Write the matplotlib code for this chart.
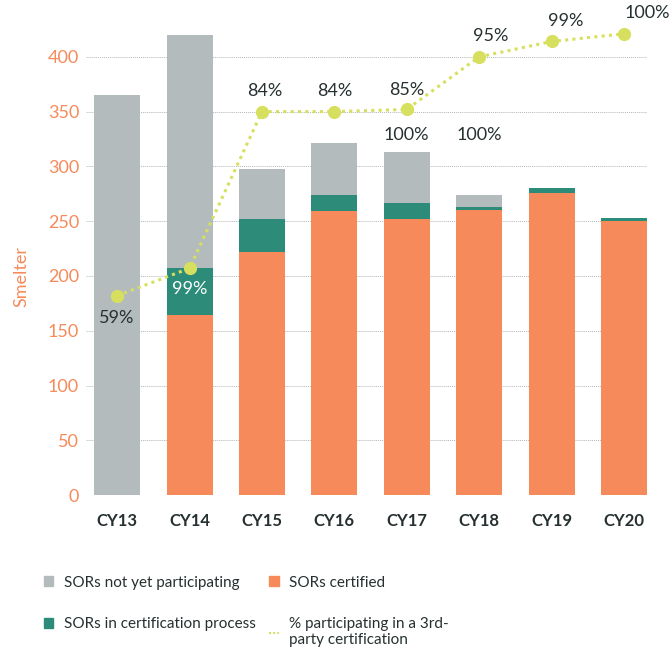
import matplotlib.pyplot as plt
from matplotlib.patches import Patch
from matplotlib.lines import Line2D

plt.rcParams['font.family'] = ['Lato', 'DejaVu Sans']

years = ['CY13', 'CY14', 'CY15', 'CY16', 'CY17', 'CY18', 'CY19', 'CY20']
certified = [0, 164, 222, 259, 252, 260, 276, 250]
in_process = [0, 43, 30, 15, 15, 3, 4, 3]
not_participating = [365, 213, 46, 47, 46, 11, 0, 0]
participation_line = [182, 207, 350, 350, 352, 400, 414, 421]
participation_pct = ['59%', '99%', '84%', '84%', '85%', '95%', '99%', '100%']
extra_labels = ['100%', '100%']
extra_years = ['CY17', 'CY18']
extra_level = 329

GRAY = '#B3BBBC'
TEAL = '#2C8B79'
ORANGE = '#F68A5A'
LIME = '#D7E05E'
TEXT = '#263030'

fig = plt.figure(figsize=(6.72, 6.48), dpi=100)
ax = fig.add_axes([0.128, 0.236, 0.835, 0.749])

x = range(len(years))
w = 0.635
bottom2 = [c + p for c, p in zip(certified, in_process)]
ax.bar(x, certified, w, color=ORANGE, zorder=2)
ax.bar(x, in_process, w, bottom=certified, color=TEAL, zorder=2)
ax.bar(x, not_participating, w, bottom=bottom2, color=GRAY, zorder=2)

ax.plot(x, participation_line, color=LIME, linestyle=(0, (1, 1.4)), linewidth=2.2,
        marker='o', markersize=8.5, zorder=3)

# percentage labels: (dx, dy) in points, relative to each line point
offsets = [(0, -16), (0, -15), (2, 15), (0, 15), (0, 14), (8, 15), (10, 15), (17, 15)]
for i, (lab, (dx, dy)) in enumerate(zip(participation_pct, offsets)):
    col = 'white' if i == 1 else TEXT
    ax.annotate(lab, (i, participation_line[i]), xytext=(dx, dy), textcoords='offset points',
                ha='center', va='center', fontsize=13, color=col, zorder=4)
for lab, yr in zip(extra_labels, extra_years):
    ax.text(years.index(yr), extra_level, lab, ha='center', va='center',
            fontsize=13, color=TEXT, zorder=4)

ax.set_xlim(-0.43, 7.32)
ax.set_ylim(0, 443)
ax.set_yticks(range(0, 401, 50))
ax.set_xticks(list(x))
ax.set_xticklabels(years, fontweight='bold', fontsize=12, color=TEXT)
ax.tick_params(axis='x', length=0, pad=13)
ax.tick_params(axis='y', length=0, pad=5, labelsize=13, labelcolor=ORANGE)
ax.yaxis.grid(True, linestyle=(0, (1, 1)), color='#B0B7B9', linewidth=0.7, zorder=0)
ax.set_axisbelow(True)
for s in ax.spines.values():
    s.set_visible(False)
ax.set_ylabel('Smelter', color=ORANGE, fontsize=13)
ax.yaxis.set_label_coords(-0.1, 0.45)

handles = [
    Patch(color=GRAY, label='SORs not yet participating'),
    Patch(color=TEAL, label='SORs in certification process'),
    Patch(color=ORANGE, label='SORs certified'),
    Line2D([], [], color=LIME, linestyle=(0, (1, 1)), linewidth=1.5,
           label='% participating in a 3rd-\nparty certification'),
]
fig.legend(handles=handles, ncol=2, loc='upper left', bbox_to_anchor=(0.045, 0.133),
           frameon=False, fontsize=11, labelcolor=TEXT, handlelength=0.6, handleheight=0.6,
           handletextpad=0.7, columnspacing=0.9, labelspacing=1.8)

fig.savefig('out.png', dpi=100)
